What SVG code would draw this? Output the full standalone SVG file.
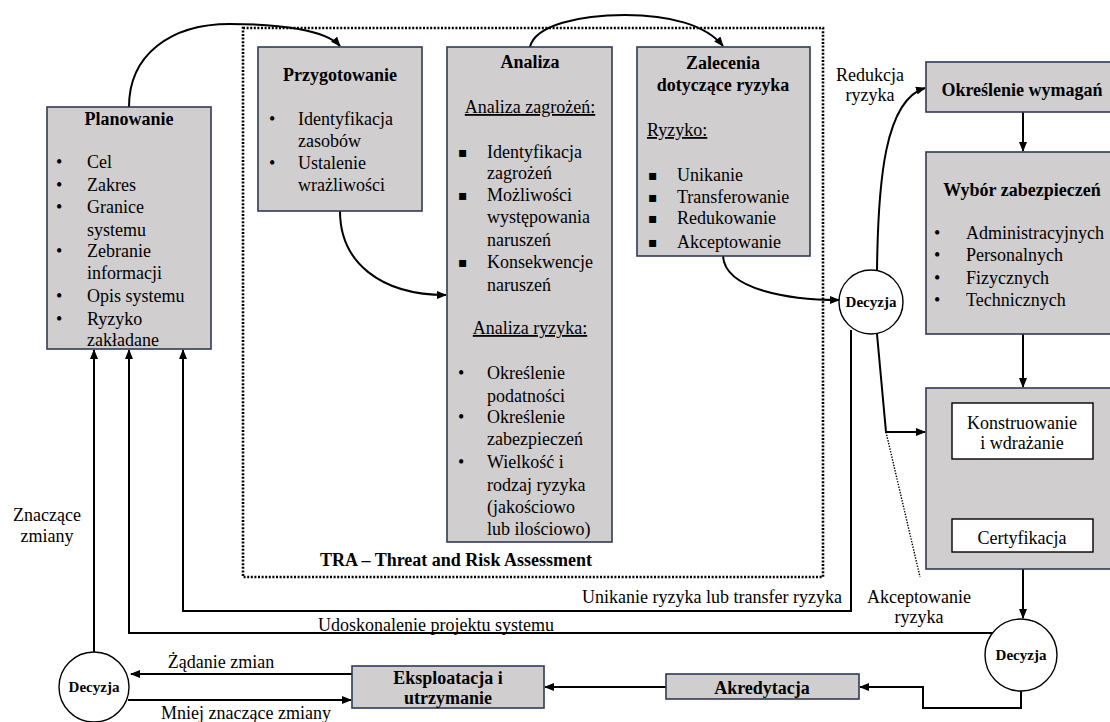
<svg xmlns="http://www.w3.org/2000/svg" width="1110" height="722" viewBox="0 0 1110 722">
  <style>
    text { font-family: 'Liberation Serif', 'Times New Roman', serif; font-size: 18px; fill: #000; }
    .b { font-weight: bold; }
    .c { text-anchor: middle; }
    .e { text-anchor: end; }
    .u { text-decoration: underline; }
    .dec { font-weight: bold; font-size: 15px; text-anchor: middle; }
    .sq { font-family: 'DejaVu Sans', sans-serif; font-size: 14px; }
    .box { fill: #D0CECE; stroke: #2F3B55; stroke-width: 1.6; }
    .wbox { fill: #FFFFFF; stroke: #000; stroke-width: 1.4; }
    .circ { fill: #FFFFFF; stroke: #000; stroke-width: 1.4; }
    .ln { fill: none; stroke: #000; stroke-width: 2; }
    .arr { marker-end: url(#ah); }
    .tra { fill: none; stroke: #000; stroke-width: 2.6; stroke-dasharray: 2 1.6; }
    .dot { fill: none; stroke: #000; stroke-width: 1.4; stroke-dasharray: 1.4 1.4; }
  </style>
  <defs>
    <marker id="ah" markerUnits="userSpaceOnUse" markerWidth="10" markerHeight="8" refX="9" refY="4" orient="auto">
      <path d="M0,0 L10,4 L0,8 z" fill="#000"/>
    </marker>
  </defs>

  <rect width="1110" height="722" fill="#FFFFFF"/>

  <!-- TRA frame -->
  <g id="tra">
    <rect class="tra" x="243" y="28" width="580" height="549"/>
    <text class="b" x="320" y="566">TRA – Threat and Risk Assessment</text>
  </g>

  <!-- connectors -->
  <g id="connectors">
    <path class="ln arr" d="M129,107 C129,55 170,24 230,24 C280,24 326,30 340,46"/>
    <path class="ln arr" d="M530,47 C535,25 580,15 625,15 C670,15 706,25 723,46"/>
    <path class="ln arr" d="M340,211 C340,262 380,295 446,295"/>
    <path class="ln arr" d="M723,256 C725,290 790,300 839,300"/>
    <path class="ln arr" d="M877,271 C878,180 885,100 925,88"/>
    <path class="ln arr" d="M1023,112 L1023,151"/>
    <path class="ln arr" d="M1023,334 L1023,387"/>
    <path class="ln arr" d="M1023,459 L1023,518"/>
    <path class="ln arr" d="M1023,552 L1023,618"/>
    <path class="ln arr" d="M877,334 L886,432 L925,432"/>
    <path class="dot" d="M886,432 L920,577"/>
    <path class="ln arr" d="M851,330 L851,611 L183,611 L183,350"/>
    <path class="ln arr" d="M993,633 L129,633 L129,350"/>
    <path class="ln arr" d="M94,652 L94,350"/>
    <path class="ln arr" d="M352,674 L131,674"/>
    <path class="ln arr" d="M128,700 L351,700"/>
    <path class="ln arr" d="M666,687 L545,687"/>
    <path class="ln arr" d="M1021,691 L1021,708 L923,708 L923,687 L860,687"/>

    <text class="c" x="870" y="81">Redukcja</text>
    <text class="c" x="870" y="101">ryzyka</text>
    <text class="e" x="842" y="603">Unikanie ryzyka lub transfer ryzyka</text>
    <text class="c" x="919" y="603">Akceptowanie</text>
    <text class="c" x="919" y="623">ryzyka</text>
    <text x="318" y="631">Udoskonalenie projektu systemu</text>
    <text class="c" x="47" y="521">Znaczące</text>
    <text class="c" x="47" y="542">zmiany</text>
    <text class="c" x="221" y="668">Żądanie zmian</text>
    <text class="c" x="246" y="719">Mniej znaczące zmiany</text>
  </g>

  <!-- Planowanie -->
  <g id="planowanie">
    <rect class="box" x="47" y="107" width="164" height="242"/>
    <text class="b c" x="129" y="125">Planowanie</text>
    <text x="56" y="168">•</text><text x="87" y="168">Cel</text>
    <text x="56" y="191">•</text><text x="87" y="191">Zakres</text>
    <text x="56" y="213">•</text><text x="87" y="213">Granice</text>
    <text x="87" y="236">systemu</text>
    <text x="56" y="257">•</text><text x="87" y="257">Zebranie</text>
    <text x="87" y="279">informacji</text>
    <text x="56" y="302">•</text><text x="87" y="302">Opis systemu</text>
    <text x="56" y="325">•</text><text x="87" y="325">Ryzyko</text>
    <text x="87" y="346">zakładane</text>
  </g>

  <!-- Przygotowanie -->
  <g id="przygotowanie">
    <rect class="box" x="258" y="47" width="164" height="164"/>
    <text class="b c" x="340" y="81">Przygotowanie</text>
    <text x="269" y="125">•</text><text x="298" y="125">Identyfikacja</text>
    <text x="298" y="147">zasobów</text>
    <text x="269" y="169">•</text><text x="298" y="169">Ustalenie</text>
    <text x="298" y="191">wrażliwości</text>
  </g>

  <!-- Analiza -->
  <g id="analiza">
    <rect class="box" x="447" y="47" width="165" height="495"/>
    <text class="b c" x="530" y="68">Analiza</text>
    <text class="c u" x="530" y="113">Analiza zagrożeń:</text>
    <text class="sq" x="458" y="157">▪</text><text x="487" y="158">Identyfikacja</text>
    <text x="487" y="179">zagrożeń</text>
    <text class="sq" x="458" y="200">▪</text><text x="487" y="201">Możliwości</text>
    <text x="487" y="223">występowania</text>
    <text x="487" y="246">naruszeń</text>
    <text class="sq" x="458" y="267">▪</text><text x="487" y="268">Konsekwencje</text>
    <text x="487" y="291">naruszeń</text>
    <text class="c u" x="530" y="334">Analiza ryzyka:</text>
    <text x="458" y="379">•</text><text x="487" y="379">Określenie</text>
    <text x="487" y="402">podatności</text>
    <text x="458" y="423">•</text><text x="487" y="423">Określenie</text>
    <text x="487" y="445">zabezpieczeń</text>
    <text x="458" y="468">•</text><text x="487" y="468">Wielkość i</text>
    <text x="487" y="491">rodzaj ryzyka</text>
    <text x="487" y="513">(jakościowo</text>
    <text x="487" y="535">lub ilościowo)</text>
  </g>

  <!-- Zalecenia -->
  <g id="zalecenia">
    <rect class="box" x="637" y="47" width="173" height="209"/>
    <text class="b c" x="723" y="69">Zalecenia</text>
    <text class="b c" x="723" y="91">dotyczące ryzyka</text>
    <text class="u" x="647" y="136">Ryzyko:</text>
    <text class="sq" x="648" y="180">▪</text><text x="677" y="181">Unikanie</text>
    <text class="sq" x="648" y="202">▪</text><text x="677" y="203">Transferowanie</text>
    <text class="sq" x="648" y="223">▪</text><text x="677" y="224">Redukowanie</text>
    <text class="sq" x="648" y="247">▪</text><text x="677" y="248">Akceptowanie</text>
  </g>

  <!-- Decyzja (TRA outcome) -->
  <g id="decyzja1">
    <circle class="circ" cx="871" cy="302" r="32"/>
    <text class="dec" x="871" y="307">Decyzja</text>
  </g>

  <!-- Określenie wymagań -->
  <g id="wymagania">
    <rect class="box" x="926" y="62" width="194" height="50"/>
    <text class="b c" x="1022" y="96">Określenie wymagań</text>
  </g>

  <!-- Wybór zabezpieczeń -->
  <g id="wybor">
    <rect class="box" x="926" y="152" width="194" height="182"/>
    <text class="b c" x="1022" y="196">Wybór zabezpieczeń</text>
    <text x="934" y="239">•</text><text x="966" y="239">Administracyjnych</text>
    <text x="934" y="261">•</text><text x="966" y="261">Personalnych</text>
    <text x="934" y="284">•</text><text x="966" y="284">Fizycznych</text>
    <text x="934" y="306">•</text><text x="966" y="306">Technicznych</text>
  </g>

  <!-- Konstruowanie / Certyfikacja -->
  <g id="wdrozenie">
    <rect class="box" x="926" y="388" width="194" height="181"/>
  </g>
  <g id="konstruowanie">
    <rect class="wbox" x="952" y="403" width="141" height="56"/>
    <text class="c" x="1022" y="429">Konstruowanie</text>
    <text class="c" x="1022" y="449">i wdrażanie</text>
  </g>
  <g id="certyfikacja">
    <rect class="wbox" x="952" y="519" width="141" height="33"/>
    <text class="c" x="1022" y="544">Certyfikacja</text>
  </g>

  <!-- Decyzja (certification outcome) -->
  <g id="decyzja2">
    <circle class="circ" cx="1021" cy="655" r="36"/>
    <text class="dec" x="1021" y="660">Decyzja</text>
  </g>

  <!-- Akredytacja -->
  <g id="akredytacja">
    <rect class="box" x="666" y="674" width="193" height="25"/>
    <text class="b c" x="762" y="694">Akredytacja</text>
  </g>

  <!-- Eksploatacja -->
  <g id="eksploatacja">
    <rect class="box" x="352" y="666" width="192" height="42"/>
    <text class="b c" x="448" y="684">Eksploatacja i</text>
    <text class="b c" x="448" y="704">utrzymanie</text>
  </g>

  <!-- Decyzja (operation) -->
  <g id="decyzja3">
    <circle class="circ" cx="94" cy="687" r="35"/>
    <text class="dec" x="94" y="692">Decyzja</text>
  </g>
</svg>
